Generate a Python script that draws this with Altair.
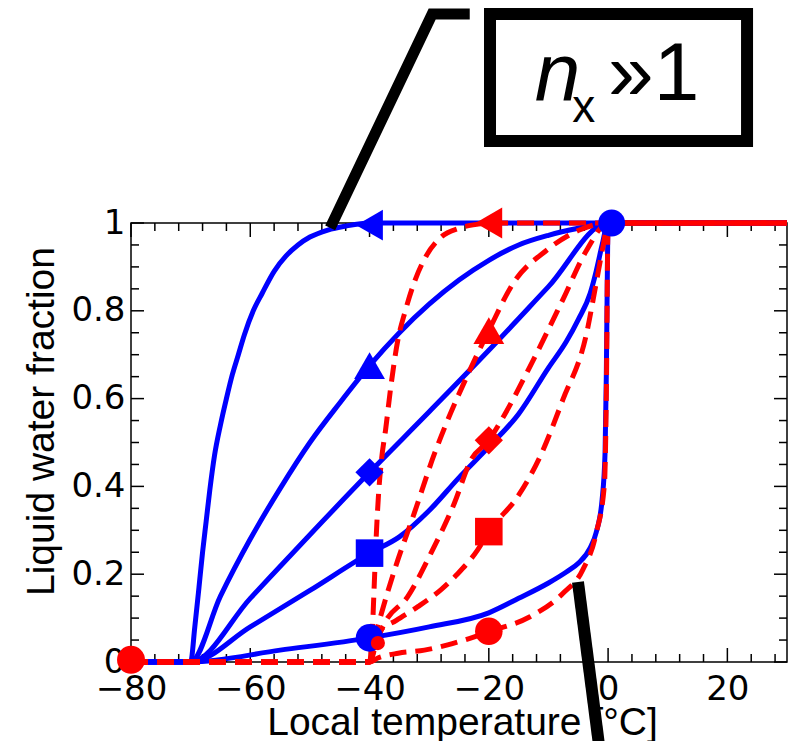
import altair as alt
import pandas as pd

# ---------------- data ----------------
# blue solid curves (markers at T = -40)
b_tl_x = [-80, -70, -69.3, -68.6, -68.0, -67.4, -66.8, -66.0, -65.0, -64.0, -63.0, -62.0, -61.0, -59.5, -58, -56, -54, -52, -50, -47, -44, -40, 0, 30]
b_tl_y = [0, 0, 0.08, 0.17, 0.25, 0.32, 0.39, 0.47, 0.54, 0.60, 0.655, 0.70, 0.745, 0.80, 0.84, 0.89, 0.925, 0.95, 0.968, 0.984, 0.993, 1, 1, 1]
b_tu_x = [-80, -70, -65, -60, -55, -50, -45, -40, -35, -30, -25, -20, -15, -10, -5, 0, 30]
b_tu_y = [0, 0, 0.15, 0.28, 0.395, 0.50, 0.59, 0.675, 0.75, 0.815, 0.87, 0.915, 0.95, 0.972, 0.988, 1, 1]
b_di_x = [-80, -70, -60, -50, -40, -30, -20, -10, 0, 30]
b_di_y = [0, 0, 0.145, 0.29, 0.432, 0.57, 0.71, 0.855, 1, 1]
b_sq_x = [-80, -70, -60, -50, -40, -35, -30, -25, -20, -15, -10, -7, -5, -3, -2, -1, 0, 30]
b_sq_y = [0, 0, 0.08, 0.163, 0.248, 0.285, 0.345, 0.42, 0.49, 0.565, 0.67, 0.73, 0.78, 0.84, 0.89, 0.95, 1, 1]
b_ci_x = [-80, -70, -55, -40, -30, -20, -15, -10, -7, -5, -3, -2, -1.0, -0.5, -0.3, -0.15, 0, 30]
b_ci_y = [0, 0, 0.027, 0.055, 0.08, 0.112, 0.145, 0.18, 0.205, 0.225, 0.26, 0.295, 0.37, 0.48, 0.65, 0.85, 1, 1]

# red dashed curves (markers at T = -20)
r_tl_x = [-80, -40, -39.5, -39.2, -38.9, -38.5, -38.0, -37.3, -36.5, -35.3, -34, -32.5, -30.5, -28, -25, -22, -20, 0, 30]
r_tl_y = [0, 0, 0.08, 0.18, 0.28, 0.38, 0.46, 0.53, 0.62, 0.73, 0.80, 0.865, 0.925, 0.968, 0.988, 0.997, 1, 1, 1]
r_tu_x = [-80, -40, -39.2, -38.0, -35.8, -32.5, -29.1, -26.9, -23, -20, -15.9, -10.3, -4.8, 0, 30]
r_tu_y = [0, 0, 0.05, 0.111, 0.21, 0.339, 0.475, 0.551, 0.67, 0.755, 0.863, 0.938, 0.984, 1, 1]
r_di_x = [-80, -40, -39, -37.5, -33.6, -29.7, -25.8, -23, -20, -17.5, -13.1, -7.6, -3.6, 0, 30]
r_di_y = [0, 0, 0.04, 0.088, 0.149, 0.248, 0.361, 0.46, 0.505, 0.56, 0.673, 0.825, 0.938, 1, 1]
r_sq_x = [-80, -40, -39, -38.6, -35.5, -31.9, -28, -25.3, -21.9, -20, -15, -11.4, -7.6, -3.6, -2, -0.8, 0, 30]
r_sq_y = [0, 0, 0.04, 0.066, 0.095, 0.126, 0.165, 0.2, 0.255, 0.297, 0.38, 0.468, 0.597, 0.749, 0.863, 0.95, 1, 1]
r_ci_x = [-80, -40, -38.6, -35.2, -30.8, -26.9, -24.1, -19.8, -13.1, -7.6, -4.25, -2, -0.6, -0.3, 0, 30]
r_ci_y = [0, 0, 0.009, 0.02, 0.027, 0.039, 0.05, 0.07, 0.103, 0.156, 0.21, 0.293, 0.407, 0.6, 1, 1]

# markers
blue_mark_x = [-40, -40, -40, -40, -40]
blue_mark_y = [0.995, 0.675, 0.432, 0.248, 0.055]
red_mark_x = [-20, -20, -20, -20, -20]
red_mark_y = [1.0, 0.755, 0.505, 0.297, 0.07]
mark_shapes = ["triangle-left", "triangle-up", "diamond", "square", "circle"]
mark_sizes = [950, 950, 800, 760, 760]
blob_x = [0.6, -80, -38.6]
blob_y = [1.0, 0.005, 0.043]
blob_color = ["#0000ff", "#ff0000", "#ff0000"]
blob_size = [720, 780, 200]

# annotation (data units)
ann_line1_x = [-46.6, -29.5, -23.2]
ann_line1_y = [0.989, 1.476, 1.476]
ann_line2_x = [-5.05, -1.2]
ann_line2_y = [0.182, -0.223]
box_x = [-19.8]
box_x2 = [23.3]
box_y = [1.476]
box_y2 = [1.187]

x_major = [-80, -60, -40, -20, 0, 20]
x_minor = [v for v in range(-76, 30, 4) if v % 20 != 0]
y_major = [0, 0.2, 0.4, 0.6, 0.8, 1.0]
y_minor = [0.05, 0.1, 0.15, 0.25, 0.3, 0.35, 0.45, 0.5, 0.55, 0.65, 0.7, 0.75, 0.85, 0.9, 0.95]

W, H = 656, 439
BLUE = "#0000ff"
RED = "#ff0000"

def long(curves):
    rows = []
    for name, xs, ys in curves:
        for i, (a, b) in enumerate(zip(xs, ys)):
            rows.append({"series": name, "i": i, "x": a, "y": b})
    return pd.DataFrame(rows)

blue_df = long([("tl", b_tl_x, b_tl_y), ("tu", b_tu_x, b_tu_y), ("di", b_di_x, b_di_y),
                ("sq", b_sq_x, b_sq_y), ("ci", b_ci_x, b_ci_y)])
red_df = long([("tl", r_tl_x, r_tl_y), ("tu", r_tu_x, r_tu_y), ("di", r_di_x, r_di_y),
               ("sq", r_sq_x, r_sq_y), ("ci", r_ci_x, r_ci_y)])

xscale = alt.Scale(domain=[-80, 30], nice=False, zero=False)
yscale = alt.Scale(domain=[0, 1], nice=False, zero=False)

xaxis = alt.Axis(values=x_major, tickSize=0, domain=False, grid=False,
                 labelFont="DejaVu Sans", labelFontSize=34, labelColor="black",
                 labelPadding=10, labelFlush=False, labelOverlap=False,
                 title="Local temperature [°C]", titleFont="Liberation Sans",
                 titleFontSize=39, titleFontWeight="normal", titleColor="black",
                 titleX=331, titleY=72, titleBaseline="alphabetic", titleAlign="center")
yaxis = alt.Axis(values=y_major, format="~g", tickSize=0, domain=False, grid=False,
                 labelFont="DejaVu Sans", labelFontSize=34, labelColor="black",
                 labelPadding=6, labelFlush=False, labelOverlap=False,
                 title="Liquid water fraction", titleFont="Liberation Sans",
                 titleFontSize=39, titleFontWeight="normal", titleColor="black",
                 titleX=-78, titleY=198, titleAngle=270, titleBaseline="alphabetic",
                 titleAlign="center")

def X(field="x"):
    return alt.X(f"{field}:Q", scale=xscale, axis=xaxis)

def Y(field="y"):
    return alt.Y(f"{field}:Q", scale=yscale, axis=yaxis)

blue_lines = alt.Chart(blue_df).mark_line(color=BLUE, strokeWidth=5, strokeJoin="round",
                                          interpolate="monotone").encode(
    x=X(), y=Y(), detail="series:N", order="i:Q")
red_lines = alt.Chart(red_df).mark_line(color=RED, strokeWidth=5, strokeDash=[17, 9],
                                        strokeCap="butt", interpolate="monotone").encode(
    x=X(), y=Y(), detail="series:N", order="i:Q")

bm = pd.DataFrame({"x": blue_mark_x, "y": blue_mark_y, "shape": mark_shapes, "s": mark_sizes})
rm = pd.DataFrame({"x": red_mark_x, "y": red_mark_y, "shape": mark_shapes, "s": mark_sizes})
blue_pts = alt.Chart(bm).mark_point(filled=True, opacity=1, color=BLUE).encode(
    x=X(), y=Y(), shape=alt.Shape("shape:N", scale=None), size=alt.Size("s:Q", scale=None))
red_pts = alt.Chart(rm).mark_point(filled=True, opacity=1, color=RED).encode(
    x=X(), y=Y(), shape=alt.Shape("shape:N", scale=None), size=alt.Size("s:Q", scale=None))
blobs = alt.Chart(pd.DataFrame({"x": blob_x, "y": blob_y, "c": blob_color, "s": blob_size})).mark_point(
    filled=True, opacity=1, shape="circle").encode(
    x=X(), y=Y(), color=alt.Color("c:N", scale=None), size=alt.Size("s:Q", scale=None))

# frame ticks (inward)
def xticks(vals, length):
    d = pd.DataFrame({"x": vals})
    bot = alt.Chart(d).mark_rule(color="black", strokeWidth=1.5).encode(
        x=X(), y=alt.value(H), y2=alt.value(H - length))
    top = alt.Chart(d).mark_rule(color="black", strokeWidth=1.5).encode(
        x=X(), y=alt.value(0), y2=alt.value(length))
    return [bot, top]

def yticks(vals, length):
    d = pd.DataFrame({"y": vals})
    left = alt.Chart(d).mark_rule(color="black", strokeWidth=1.5).encode(
        y=Y(), x=alt.value(0), x2=alt.value(length))
    right = alt.Chart(d).mark_rule(color="black", strokeWidth=1.5).encode(
        y=Y(), x=alt.value(W), x2=alt.value(W - length))
    return [left, right]

ticks = xticks(x_major, 14) + xticks(x_minor, 8) + yticks(y_major, 13) + yticks(y_minor, 8)

# annotation
l1 = alt.Chart(pd.DataFrame({"x": ann_line1_x, "y": ann_line1_y, "i": [0, 1, 2]})).mark_line(
    color="black", strokeWidth=11, strokeJoin="miter", strokeCap="butt").encode(
    x=X(), y=Y(), order="i:Q")
l2 = alt.Chart(pd.DataFrame({"x": ann_line2_x, "y": ann_line2_y, "i": [0, 1]})).mark_line(
    color="black", strokeWidth=12, strokeCap="butt").encode(
    x=X(), y=Y(), order="i:Q")
box = alt.Chart(pd.DataFrame({"x": box_x, "x2": box_x2, "y": box_y, "y2": box_y2})).mark_rect(
    fillOpacity=0, stroke="black", strokeWidth=12).encode(
    x=X(), x2="x2:Q", y=Y(), y2="y2:Q")
t_n = alt.Chart(pd.DataFrame({"x": [-12.3], "y": [1.280], "t": ["n"]})).mark_text(
    font="Liberation Sans", fontSize=82, fontStyle="italic", align="left",
    baseline="alphabetic", color="black").encode(x=X(), y=Y(), text="t:N")
t_x = alt.Chart(pd.DataFrame({"x": [-6.0], "y": [1.230], "t": ["x"]})).mark_text(
    font="Liberation Sans", fontSize=46, align="left",
    baseline="alphabetic", color="black").encode(x=X(), y=Y(), text="t:N")
t_r = alt.Chart(pd.DataFrame({"x": [0.0], "y": [1.280], "t": ["»1"]})).mark_text(
    font="Liberation Sans", fontSize=82, align="left",
    baseline="alphabetic", color="black").encode(x=X(), y=Y(), text="t:N")

chart = alt.layer(
    *ticks, blue_lines, red_lines, blue_pts, red_pts, blobs, l1, l2, box, t_n, t_x, t_r
).properties(
    width=W, height=H,
    autosize=alt.AutoSizeParams(type="none"),
    padding={"left": 123, "top": 215, "right": 1, "bottom": 79},
    background="white",
).configure_view(stroke="black", strokeWidth=1.5)

chart.save("out.html", embed_options={"renderer": "svg", "actions": False})
